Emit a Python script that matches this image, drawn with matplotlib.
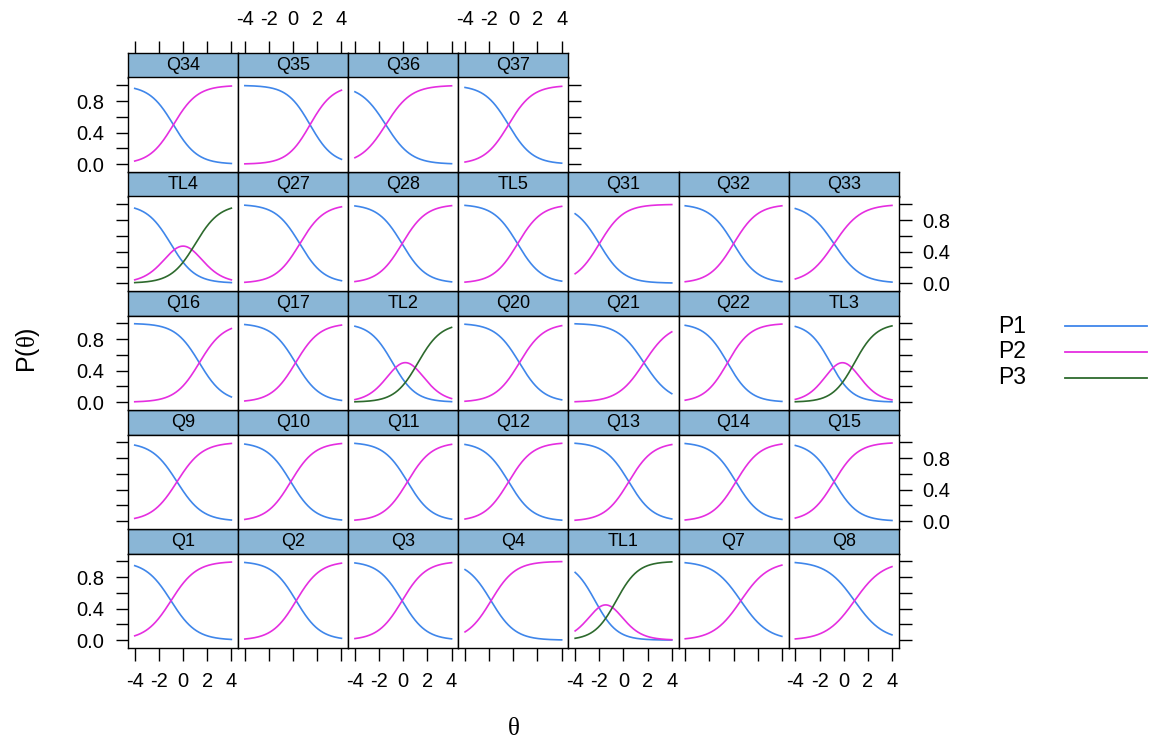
import numpy as np
import matplotlib
matplotlib.use("Agg")
import matplotlib.pyplot as plt
from matplotlib.lines import Line2D

plt.rcParams['font.family'] = ['Liberation Sans', 'DejaVu Sans']
plt.rcParams['axes.unicode_minus'] = False
plt.rcParams['mathtext.fontset'] = 'custom'
plt.rcParams['mathtext.rm'] = 'Liberation Serif'
plt.rcParams['mathtext.it'] = 'Liberation Serif:italic'

# item names in panel order (bottom-left first, 7 per row)
items = ["Q1", "Q2", "Q3", "Q4", "TL1", "Q7", "Q8",
         "Q9", "Q10", "Q11", "Q12", "Q13", "Q14", "Q15",
         "Q16", "Q17", "TL2", "Q20", "Q21", "Q22", "TL3",
         "TL4", "Q27", "Q28", "TL5", "Q31", "Q32", "Q33",
         "Q34", "Q35", "Q36", "Q37"]

# item slopes
slope = [0.95, 1.0, 1.0, 1.0, 1.1, 0.88, 0.85,
         0.95, 1.0, 1.0, 1.0, 1.0, 1.0, 1.0,
         1.0, 1.0, 1.05, 1.0, 0.92, 1.05, 1.1,
         1.0, 1.0, 1.0, 1.0, 1.0, 1.0, 0.9,
         1.0, 1.05, 0.95, 1.0]
# location of the first category boundary
loc1 = [-1.0, 0.25, -0.1, -1.85, -2.35, 0.6, 0.9,
        -0.5, -0.2, 0.35, -0.4, 0.45, 0.2, -0.8,
        1.35, 0.2, -0.88, 0.5, 1.7, -0.5, -1.1,
        -1.02, 0.55, -0.1, 0.35, -2.0, 0.0, -0.8,
        -0.8, 1.4, -1.45, -0.4]
# second boundary, only for the three-category (TL) items
loc2 = {"TL1": -0.6, "TL2": 1.22, "TL3": 0.9, "TL4": 1.02}

cat_names = ["P1", "P2", "P3"]
cat_colors = ["#3f86ea", "#e52ee0", "#2d6a2d"]
strip_color = "#8ab6d6"

x_ticks = [-4, -2, 0, 2, 4]
y_ticks = [0.0, 0.2, 0.4, 0.6, 0.8, 1.0]
y_ticklabels = ["0.0", "", "0.4", "", "0.8", ""]

W, H = 1152, 746
fig = plt.figure(figsize=(W / 100, H / 100), dpi=100)


def box(x, y, w, h):
    # pixel box (top-left origin) -> figure fraction
    return [x / W, 1 - (y + h) / H, w / W, h / H]


def logistic(z):
    return 1 / (1 + np.exp(-z))


def trace(name, a, b1, theta):
    # graded response trace lines
    f1 = logistic(a * (theta - b1))
    if name not in loc2:
        return [1 - f1, f1]
    f2 = logistic(a * (theta - loc2[name]))
    return [1 - f1, f1 - f2, f2]


theta = np.linspace(-4, 4, 200)
xlim = (-4.56, 4.56)
ylim = (-0.1, 1.1)

left0, top0 = 128, 53
col_w, row_h, strip_h = 110.1, 119, 24.5
ncol = 7
nrow = 5

for i, name in enumerate(items):
    r = i // ncol
    c = i % ncol
    row_top = nrow - 1 - r
    x = left0 + c * col_w
    y = top0 + row_top * row_h
    last_col = ncol - 1 if row_top > 0 else 3

    # strip
    sax = fig.add_axes(box(x, y, col_w, strip_h))
    sax.set_facecolor(strip_color)
    sax.set_xlim(xlim)
    sax.set_ylim(0, 1)
    sax.set_yticks([])
    sax.text(0, 0.5, name, ha='center', va='center', fontsize=13)
    for s in sax.spines.values():
        s.set_linewidth(1.0)
    if row_top == 0:
        sax.xaxis.set_ticks_position('top')
        sax.set_xticks(x_ticks)
        sax.tick_params(axis='x', direction='out', length=9, width=1,
                        labelsize=14.5, pad=8, labeltop=(c in (1, 3)))
    else:
        sax.set_xticks([])

    # panel
    ax = fig.add_axes(box(x, y + strip_h, col_w, row_h - strip_h))
    ax.set_xlim(xlim)
    ax.set_ylim(ylim)
    probs = trace(name, slope[i], loc1[i], theta)
    for k, p in enumerate(probs):
        ax.plot(theta, p, color=cat_colors[k], lw=1.2)
    for s in ax.spines.values():
        s.set_linewidth(1.0)

    ax.set_xticks(x_ticks)
    ax.set_yticks(y_ticks)
    ax.set_yticklabels(y_ticklabels)
    ax.tick_params(direction='out', length=9, width=1, labelsize=14.5, pad=8)
    ax.tick_params(axis='x', bottom=(r == 0), labelbottom=(r == 0 and c % 2 == 0),
                   top=False, labeltop=False)
    ax.tick_params(axis='y', left=(c == 0), labelleft=(c == 0 and row_top % 2 == 0),
                   right=(c == last_col),
                   labelright=(c == last_col and row_top % 2 == 1))

# axis titles
fig.text(28 / W, 1 - 350 / H, r'P($\mathrm{\theta}$)', rotation=90, fontsize=18,
         ha='center', va='center')
fig.text(513 / W, 1 - 728 / H, r'$\mathrm{\theta}$', fontsize=18,
         ha='center', va='center')

# key
key_y = [326, 352, 378]
for k in range(3):
    fig.text(998 / W, 1 - key_y[k] / H, cat_names[k], fontsize=16.5,
             ha='left', va='center')
    fig.add_artist(Line2D([1065 / W, 1147 / W], [1 - key_y[k] / H] * 2,
                          transform=fig.transFigure, color=cat_colors[k], lw=1.3))

fig.savefig("out.png", dpi=100)
